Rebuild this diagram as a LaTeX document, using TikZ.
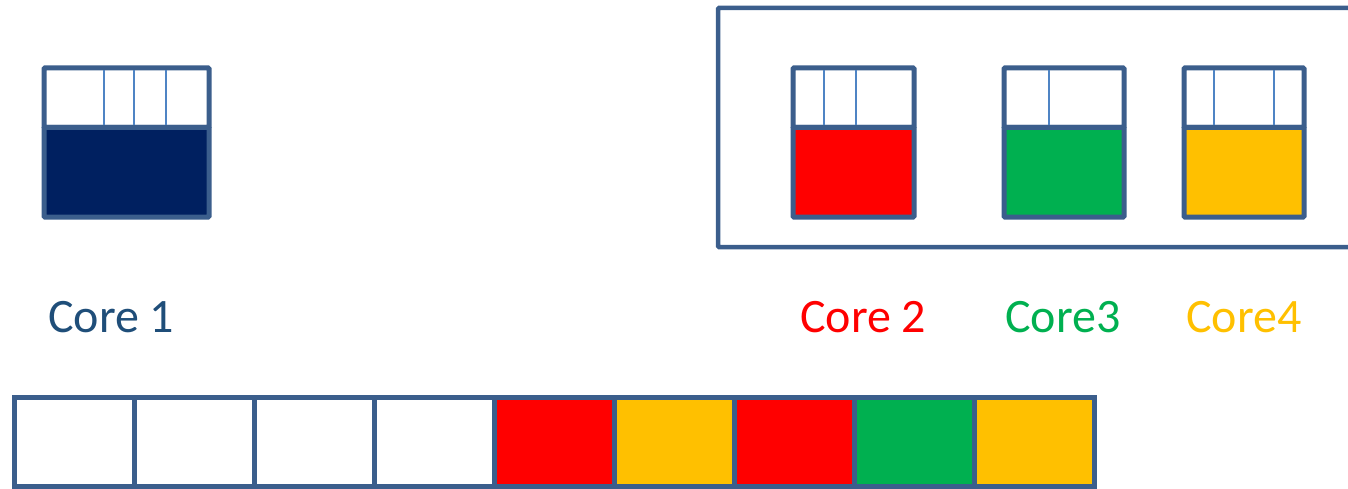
\documentclass[tikz,border=0pt]{standalone}
\usepackage{fontspec}
\setmainfont{Carlito}
\usepackage{xcolor}
\definecolor{framecolor}{HTML}{3B5E8C}
\definecolor{slotcolor}{HTML}{4F84C4}
\definecolor{bluecore}{HTML}{002060}
\definecolor{redcore}{HTML}{FF0000}
\definecolor{greencore}{HTML}{00B050}
\definecolor{yellowcore}{HTML}{FFC000}
\definecolor{labelblue}{HTML}{1F4E79}
\usepackage{tikz}
\usetikzlibrary{positioning}
\tikzset{
    queue/.style={
        rectangle,
        draw=framecolor,
        fill=white,
        line width=5pt,
        minimum height=59.5pt,
        inner sep=0pt,
        outer sep=0pt,
        rounded corners=1pt,
    },
    corebody/.style={
        rectangle,
        draw=framecolor,
        line width=5pt,
        minimum height=89.5pt,
        inner sep=0pt,
        outer sep=0pt,
        rounded corners=1pt,
    },
    slot/.style={
        draw=slotcolor,
        line width=2pt,
        shorten <=2.5pt,
        shorten >=2.5pt,
    },
    cell/.style={
        rectangle,
        draw=framecolor,
        line width=5pt,
        minimum width=120pt,
        minimum height=89.2pt,
        inner sep=0pt,
        outer sep=0pt,
    },
    cluster/.style={
        draw=framecolor,
        line width=4.5pt,
        rounded corners=1pt,
    },
    corelabel/.style={
        font=\fontsize{48}{57}\selectfont,
        anchor=base west,
        inner sep=0pt,
    },
}

\begin{document}
\begin{tikzpicture}[x=1pt,y=1pt]
        \useasboundingbox (0,0) rectangle (1348,488);
        \clip (0,0) rectangle (1348,488);

        % core 1
        \node[queue, minimum width=165pt] (q1) at (126.5,390.25) {};
        \node[corebody, minimum width=165pt, fill=bluecore, below=0pt of q1] (b1) {};
        \draw[slot] ([xshift=60pt]q1.north west) -- ([xshift=60pt]q1.south west);
        \draw[slot] ([xshift=90pt]q1.north west) -- ([xshift=90pt]q1.south west);
        \draw[slot] ([xshift=122pt]q1.north west) -- ([xshift=122pt]q1.south west);

        % cluster of cores 2-4
        \draw[cluster] (718,241) rectangle (1375,480);

        \node[queue, minimum width=121pt] (q2) at (853.5,390.25) {};
        \node[corebody, minimum width=121pt, fill=redcore, below=0pt of q2] (b2) {};
        \draw[slot] ([xshift=31pt]q2.north west) -- ([xshift=31pt]q2.south west);
        \draw[slot] ([xshift=63pt]q2.north west) -- ([xshift=63pt]q2.south west);

        \node[queue, minimum width=120pt] (q3) at (1064,390.25) {};
        \node[corebody, minimum width=120pt, fill=greencore, below=0pt of q3] (b3) {};
        \draw[slot] ([xshift=45pt]q3.north west) -- ([xshift=45pt]q3.south west);

        \node[queue, minimum width=120pt] (q4) at (1244,390.25) {};
        \node[corebody, minimum width=120pt, fill=yellowcore, below=0pt of q4] (b4) {};
        \draw[slot] ([xshift=30pt]q4.north west) -- ([xshift=30pt]q4.south west);
        \draw[slot] ([xshift=90pt]q4.north west) -- ([xshift=90pt]q4.south west);

        % labels
        \node[corelabel, text=labelblue] (l1) at (48,156) {Core 1};
        \node[corelabel, text=redcore] (l2) at (800,156) {Core 2};
        \node[corelabel, text=greencore] (l3) at (1005,156) {Core3};
        \node[corelabel, text=yellowcore] (l4) at (1186,156) {Core4};

        % shared row
        \node[cell, fill=white] (c1) at (74,46.1) {};
        \node[cell, fill=white, right=0pt of c1] (c2) {};
        \node[cell, fill=white, right=0pt of c2] (c3) {};
        \node[cell, fill=white, right=0pt of c3] (c4) {};
        \node[cell, fill=redcore, right=0pt of c4] (c5) {};
        \node[cell, fill=yellowcore, right=0pt of c5] (c6) {};
        \node[cell, fill=redcore, right=0pt of c6] (c7) {};
        \node[cell, fill=greencore, right=0pt of c7] (c8) {};
        \node[cell, fill=yellowcore, right=0pt of c8] (c9) {};
    \end{tikzpicture}
\end{document}
